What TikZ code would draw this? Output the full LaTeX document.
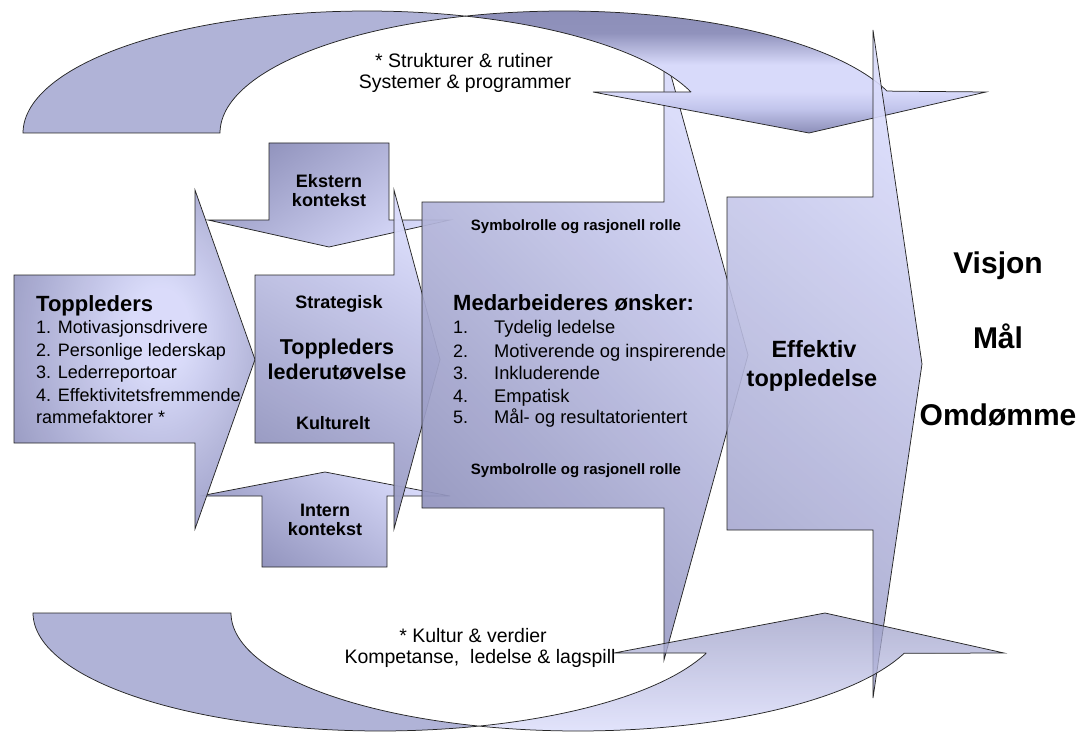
\documentclass[tikz,border=0pt]{standalone}
\usepackage{fontspec}
\setmainfont{Liberation Sans}
\usetikzlibrary{shadings}

\definecolor{flat}{HTML}{B0B3D7}
\definecolor{lavL}{HTML}{D8DAFA}
\definecolor{lavM}{HTML}{C2C5EC}
\definecolor{lavD}{HTML}{9092BC}
\definecolor{lavS}{HTML}{8C8EB8}
\definecolor{edge}{HTML}{262626}

% soft glow, lighter towards the upper right (path box = central 50bp)
\pgfdeclareradialshading{glowA}{\pgfpoint{6bp}{5bp}}{color(0bp)=(lavL); color(6bp)=(lavL); color(34bp)=(lavD); color(60bp)=(lavD)}
% band shading for the twisted part of the upper arrow (bottom to top)
\pgfdeclareverticalshading{topband}{100bp}{color(0bp)=(lavS); color(25bp)=(lavS); color(35bp)=(lavM); color(42bp)=(lavL); color(53bp)=(lavL); color(66bp)=(lavD); color(75bp)=(lavS); color(100bp)=(lavS)}

\newcommand\pxfont[1]{\fontsize{#1}{#1}\selectfont}

\tikzset{
  blk/.style={draw=edge, line width=0.75pt, line join=miter},
  lbl/.style={inner sep=0pt, anchor=base, text=black},
  lblw/.style={inner sep=0pt, anchor=base west, text=black},
}

\begin{document}
\begin{tikzpicture}[x=1pt,y=-1pt]
\useasboundingbox (0,0) rectangle (1082,733);

% ---------- context arrows ----------
\path[blk, top color=lavD, bottom color=lavL, shading angle=35]
  (269,143) -- (389,143) -- (389,220) -- (450,220) -- (329,247) -- (208,220) -- (269,220) -- cycle;
\path[blk, top color=lavL, bottom color=lavD, shading angle=-35]
  (262,567) -- (262,496) -- (200,496) -- (325,472) -- (450,496) -- (387,496) -- (387,567) -- cycle;

% ---------- Toppleders ----------
\path[blk, shading=glowA, fill opacity=0.96]
  (14,275) -- (195,275) -- (195,190) -- (255,359.5) -- (195,529) -- (195,443) -- (14,443) -- cycle;

% ---------- Toppleders lederutoevelse ----------
\path[blk, top color=lavL, bottom color=lavD, shading angle=-30, fill opacity=0.96]
  (255,275) -- (394,275) -- (394,190) -- (440,359.5) -- (394,529) -- (394,443) -- (255,443) -- cycle;

% ---------- Medarbeideres oensker ----------
\path[blk, top color=lavL, middle color=lavL, bottom color=lavD, shading angle=-45, fill opacity=0.93]
  (422,202) -- (664,202) -- (664,50) -- (748,355) -- (664,660) -- (664,508) -- (422,508) -- cycle;

% ---------- upper curved arrow ----------
\path[blk, fill=flat]
  plot[domain=180:73.4, samples=70, variable=\t] ({367+344*cos(\t)},{133-122*sin(\t)})
  -- plot[domain=106.6:180, samples=50, variable=\t] ({564+344*cos(\t)},{133-122*sin(\t)})
  -- cycle;
\path[blk, shading=topband]
  plot[domain=106.6:20.1, samples=70, variable=\t] ({564+344*cos(\t)},{133-122*sin(\t)})
  -- (986,92) -- (809,133) -- (593,92) -- (691,92)
  -- plot[domain=19.6:73.4, samples=50, variable=\t] ({367+344*cos(\t)},{133-122*sin(\t)})
  -- cycle;

% ---------- Effektiv toppledelse ----------
\path[blk, top color=lavL, middle color=lavL!92!lavD, bottom color=lavD!75!lavL, shading angle=-40, fill opacity=0.9]
  (727,197) -- (873,197) -- (873,30) -- (922,364) -- (873,698) -- (873,530) -- (727,530) -- cycle;

% ---------- texts ----------
\node[lbl, font=\pxfont{19.5}] (top1) at (464,68) {* Strukturer \& rutiner};
\node[lbl, font=\pxfont{19.5}] (top2) at (465,89) {Systemer \& programmer};

\node[lbl, font=\pxfont{18}\bfseries] (eks1) at (329,188) {Ekstern};
\node[lbl, font=\pxfont{18}\bfseries] (eks2) at (329,206) {kontekst};
\node[lbl, font=\pxfont{18}\bfseries] (int1) at (325,516) {Intern};
\node[lbl, font=\pxfont{18}\bfseries] (int2) at (325,535) {kontekst};

\node[lblw, font=\pxfont{22}\bfseries] (tl0) at (36,311) {Toppleders};
\node[lblw, font=\pxfont{18}] (tl1) at (36,333) {1. Motivasjonsdrivere};
\node[lblw, font=\pxfont{18}] (tl2) at (36,356) {2. Personlige lederskap};
\node[lblw, font=\pxfont{18}] (tl3) at (36,378) {3. Lederreportoar};
\node[lblw, font=\pxfont{18}] (tl4) at (36,401) {4. Effektivitetsfremmende};
\node[lblw, font=\pxfont{18}] (tl5) at (36,423) {rammefaktorer *};

\node[lbl, font=\pxfont{18}\bfseries] (str) at (339,308) {Strategisk};
\node[lbl, font=\pxfont{21.5}\bfseries] (lu1) at (337,354) {Toppleders};
\node[lbl, font=\pxfont{21.5}\bfseries] (lu2) at (337,379) {lederutøvelse};
\node[lbl, font=\pxfont{18}\bfseries] (kul) at (333,429) {Kulturelt};

\node[lbl, font=\pxfont{15}\bfseries] (sym1) at (576,230) {Symbolrolle og rasjonell rolle};
\node[lbl, font=\pxfont{15}\bfseries] (sym2) at (576,474) {Symbolrolle og rasjonell rolle};
\node[lblw, font=\pxfont{22}\bfseries] (med) at (453,310) {Medarbeideres ønsker:};
\foreach \n/\y/\txt in {1/333/Tydelig ledelse, 2/357/Motiverende og inspirerende,
                        3/379/Inkluderende, 4/402/Empatisk, 5/423/Mål- og resultatorientert}{
  \node[lblw, font=\pxfont{18}] (mn\n) at (453,\y) {\n.};
  \node[lblw, font=\pxfont{18.3}] (mi\n) at (494,\y) {\txt};
}

\node[lbl, font=\pxfont{23.5}\bfseries] (eff1) at (814,357) {Effektiv};
\node[lbl, font=\pxfont{23.5}\bfseries] (eff2) at (812,386) {toppledelse};

\node[lbl, font=\pxfont{30}\bfseries] (vis) at (998,273) {Visjon};
\node[lbl, font=\pxfont{30}\bfseries] (mal) at (998,348) {Mål};
\node[lbl, font=\pxfont{30}\bfseries] (omd) at (998,425) {Omdømme};

\node[lbl, font=\pxfont{19.5}] (bot1) at (473,642) {* Kultur \& verdier};
\node[lbl, font=\pxfont{19.5}] (bot2) at (480,663) {Kompetanse,\ \ ledelse \& lagspill};

% ---------- lower curved arrow ----------
\path[blk, fill=flat]
  plot[domain=180:73.4, samples=70, variable=\t] ({380+347*cos(\t)},{613+118*sin(\t)})
  -- plot[domain=106.6:180, samples=50, variable=\t] ({578+347*cos(\t)},{613+118*sin(\t)})
  -- cycle;
\path[blk, top color=lavD!85!lavL, bottom color=lavL, fill opacity=0.75]
  plot[domain=106.6:20, samples=70, variable=\t] ({578+347*cos(\t)},{613+118*sin(\t)})
  -- (1004,653) -- (825,613) -- (614,653) -- (706,653)
  -- plot[domain=20:73.4, samples=50, variable=\t] ({380+347*cos(\t)},{613+118*sin(\t)})
  -- cycle;
\end{tikzpicture}
\end{document}
